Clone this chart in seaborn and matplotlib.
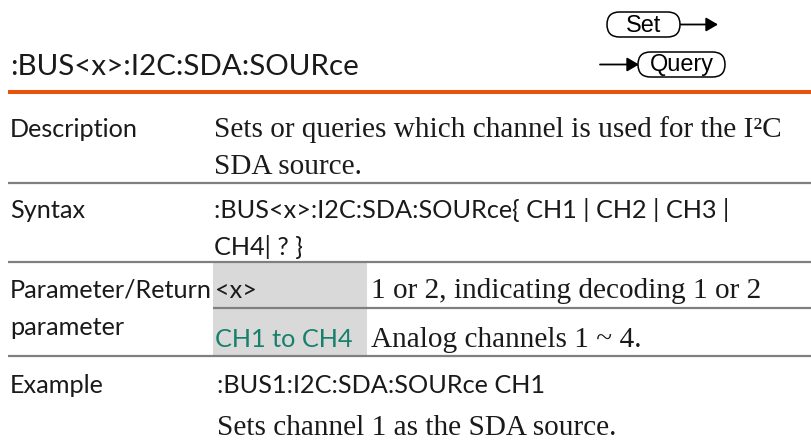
import matplotlib
matplotlib.use('Agg')
import matplotlib.pyplot as plt
from matplotlib.patches import FancyBboxPatch, Rectangle
import seaborn as sns

# page content
title = ":BUS<x>:I2C:SDA:SOURce"
buttons = ["Set", "Query"]
row_labels = [["Description"], ["Syntax"], ["Parameter/Return", "parameter"], ["Example"]]
description = ["Sets or queries which channel is used for the I\u00b2C", "SDA source."]
syntax = [":BUS<x>:I2C:SDA:SOURce{ CH1 | CH2 | CH3 |", "CH4| ? }"]
param_names = ["<x>", "CH1 to CH4"]
param_texts = ["1 or 2, indicating decoding 1 or 2", "Analog channels 1 ~ 4."]
example_cmd = ":BUS1:I2C:SDA:SOURce CH1"
example_text = "Sets channel 1 as the SDA source."

sns.set_theme(style="white")
SANS = ["Lato", "DejaVu Sans"]
SERIF = ["Liberation Serif", "DejaVu Serif"]
BTN = ["Liberation Sans", "DejaVu Sans"]
plt.rcParams['font.family'] = SANS

INK = "#1a1a1a"
GREEN = "#17806d"
ORANGE = "#e8520b"
RULE = "#7f7f7f"
CELL = "#d9d9d9"

fig = plt.figure(figsize=(8.12, 4.40), dpi=100)
ax = fig.add_axes([0, 0, 1, 1])
ax.set_xlim(0, 812)
ax.set_ylim(440, 0)
ax.axis('off')
renderer = fig.canvas.get_renderer()


def fit_size(s, family, width):
	t = ax.text(0, 0, s, fontsize=20, family=family)
	w = t.get_window_extent(renderer).width
	t.remove()
	return 20 * width / w


sans_size = fit_size(syntax[0], SANS, 515)
serif_size = fit_size(description[0], SERIF, 567)
title_size = fit_size(title, SANS, 347)
btn_size = fit_size("Query", BTN, 64)

LEFT = 10
CONTENT = 214
PTEXT = 371

def sans(x, y, s, color=INK, size=None):
	ax.text(x, y, s, fontsize=size or sans_size, family=SANS, color=color, va='baseline')

def serif(x, y, s):
	ax.text(x, y, s, fontsize=serif_size, family=SERIF, color=INK, va='baseline')

def rule(y, x0=8, color=RULE, lw=1.6):
	ax.plot([x0, 812], [y, y], color=color, lw=lw, solid_capstyle='butt', zorder=3)

# header
sans(LEFT, 75, title, size=title_size)
rule(92, color=ORANGE, lw=2.9)

# Set / Query buttons
pills = [(607, 12, 73, 25), (638, 52, 87, 25)]
for (px, py, pw, ph), label in zip(pills, buttons):
	ax.add_patch(FancyBboxPatch((px, py), pw, ph,
		boxstyle="round,pad=0,rounding_size=%g" % (ph / 2),
		fc='white', ec='black', lw=1.1, zorder=4))
	ax.text(px + pw / 2, py + ph / 2 + 1, label, fontsize=btn_size,
		family=BTN, color='black', ha='center', va='center', zorder=5)
arrow = dict(arrowstyle='-|>,head_length=0.6,head_width=0.35', color='black',
	lw=1.3, mutation_scale=12, shrinkA=0, shrinkB=0)
ax.annotate('', xy=(718, 24.5), xytext=(680, 24.5), arrowprops=arrow)
ax.annotate('', xy=(639, 64.5), xytext=(600, 64.5), arrowprops=arrow)

# description row
sans(LEFT, 137, row_labels[0][0])
serif(CONTENT, 137, description[0])
serif(CONTENT, 174, description[1])
rule(183)

# syntax row
sans(LEFT, 218, row_labels[1][0])
sans(CONTENT, 218, syntax[0])
sans(CONTENT, 255, syntax[1])
rule(262)

# parameter row
ax.add_patch(Rectangle((213, 262), 154, 94, fc=CELL, ec='none', zorder=1))
sans(LEFT, 298, row_labels[2][0])
sans(LEFT, 335, row_labels[2][1])
sans(CONTENT + 1, 298, param_names[0])
sans(CONTENT + 1, 347, param_names[1], color=GREEN)
serif(PTEXT, 298, param_texts[0])
serif(PTEXT, 347, param_texts[1])
rule(308, x0=213)
rule(356)

# example row
sans(LEFT, 393, row_labels[3][0])
sans(CONTENT + 3, 393, example_cmd)
serif(CONTENT + 3, 435, example_text)

plt.savefig('out.png', dpi=100)
